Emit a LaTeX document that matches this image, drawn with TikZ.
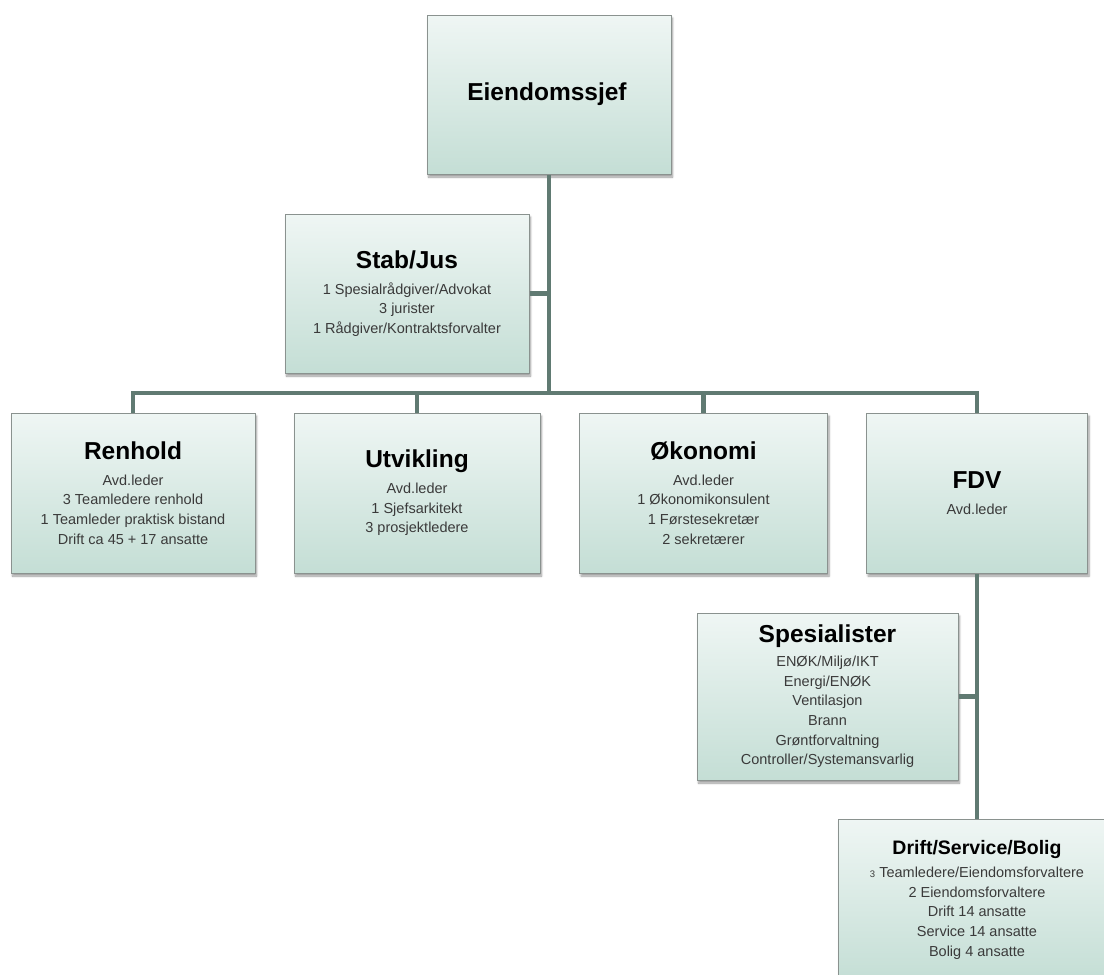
\documentclass[tikz,border=0pt]{standalone}
\usepackage{fontspec}
\setmainfont{Liberation Sans}
\usetikzlibrary{shadows.blur}
\definecolor{boxtop}{RGB}{239,246,244}
\definecolor{boxbot}{RGB}{196,222,213}
\definecolor{boxline}{RGB}{138,146,143}
\definecolor{linkcol}{RGB}{96,122,114}
\definecolor{bodytext}{RGB}{58,58,58}
\newcommand{\unittitle}[1]{{\color{black}\bfseries\fontsize{24.5}{27}\selectfont #1}}

\begin{document}
\begin{tikzpicture}[x=1pt,y=-1pt]
    \tikzset{
      unit/.style={draw=boxline,line width=1pt,top color=boxtop,bottom color=boxbot,
        rectangle,align=center,inner sep=0pt,minimum width=244pt,minimum height=160pt,
        text=bodytext,font=\fontsize{14.5}{19.7}\selectfont,
        blur shadow={shadow xshift=1.5pt,shadow yshift=-3pt,shadow blur steps=6,shadow opacity=40}},
      link/.style={draw=linkcol,line width=4.5pt}};
    \useasboundingbox (0,0) rectangle (1104,975);
    \node[unit,minimum height=159pt] (E) at (549,94.5) { \unittitle{Eiendomssjef} };
    \node[unit,minimum height=159pt] (S) at (407,293.5) { \unittitle{Stab/Jus}\\[6pt]
      1 Spesialrådgiver/Advokat\\ 3 jurister\\ 1 Rådgiver/Kontraktsforvalter };
    \node[unit] (R) at (133,493) { \unittitle{Renhold}\\[6pt]
      Avd.leder\\ 3 Teamledere renhold\\ 1 Teamleder praktisk bistand\\ Drift ca 45 + 17 ansatte };
    \node[unit,minimum width=246pt] (U) at (417,493) { \unittitle{Utvikling}\\[6pt]
      Avd.leder\\ 1 Sjefsarkitekt\\ 3 prosjektledere };
    \node[unit,minimum width=248pt] (O) at (703.5,493) { \unittitle{Økonomi}\\[6pt]
      Avd.leder\\ 1 Økonomikonsulent\\ 1 Førstesekretær\\ 2 sekretærer };
    \node[unit,minimum width=221pt] (F) at (977,493) { \unittitle{FDV}\\[6pt] Avd.leder };
    \node[unit,minimum width=261pt,minimum height=167pt] (SP) at (827.5,696.5) { \unittitle{Spesialister}\\[4pt]
      ENØK/Miljø/IKT\\ Energi/ENØK\\ Ventilasjon\\ Brann\\ Grøntforvaltning\\ Controller/Systemansvarlig };
    \node[unit,minimum width=278pt,minimum height=162pt] (D) at (977,900) {
      {\color{black}\bfseries\fontsize{19.5}{22}\selectfont Drift/Service/Bolig}\\[3pt]
      {\fontsize{9.5}{9.5}\selectfont 3} Teamledere/Eiendomsforvaltere\\ 2 Eiendomsforvaltere\\
      Drift 14 ansatte\\ Service 14 ansatte\\ Bolig 4 ansatte };
    \coordinate (bar) at (549,393);
    \draw[link] (E) -- (bar);
    \draw[link] (S.east) -- (S.east -| E.south);
    \draw[link] (bar) -| (R.north);
    \draw[link] (bar) -| (U.north);
    \draw[link] (bar) -| (O.north);
    \draw[link] (bar) -| (F.north);
    \draw[link] (F) -- (D);
    \draw[link] (SP.east) -- (SP.east -| F.south);
  \end{tikzpicture}
\end{document}
